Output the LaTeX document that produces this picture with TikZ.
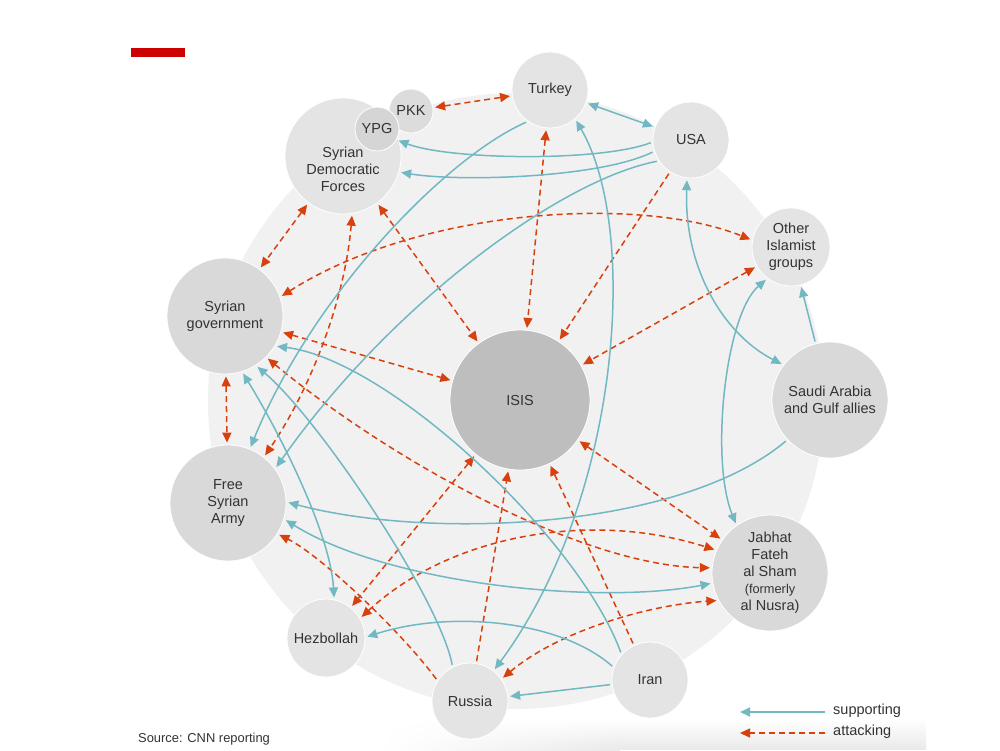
\documentclass[tikz,border=0pt]{standalone}
\usepackage{fontspec}
\setmainfont{Liberation Sans}
\usetikzlibrary{arrows.meta}
\definecolor{teal1}{HTML}{72B8C2}
\definecolor{red1}{HTML}{D8400E}
\definecolor{bgc}{HTML}{F1F1F1}
\definecolor{lightn}{HTML}{E4E4E4}
\definecolor{midn}{HTML}{D9D9D9}
\definecolor{ypgc}{HTML}{D5D5D5}
\definecolor{pkkc}{HTML}{DCDCDC}
\definecolor{isisc}{HTML}{BEBEBE}
\definecolor{txt}{HTML}{333333}
\definecolor{barred}{HTML}{CC0000}
\begin{document}
\begin{tikzpicture}[x=1pt,y=-1pt,
  >={Triangle[length=10pt,width=9pt]},
  ent/.style={circle, inner sep=0pt, draw=white, line width=0.8pt, text=txt, align=center,
    font=\fontsize{14.5}{17}\selectfont},
  small/.style={ent, fill=lightn, minimum size=76pt},
  big/.style={ent, fill=midn, minimum size=116pt},
  lbl/.style={text=txt, align=center, font=\fontsize{14.5}{17}\selectfont, inner sep=0pt},
  sup/.style={teal1, line width=1.5pt, shorten >=2pt, shorten <=2pt},
  att/.style={red1, line width=1.5pt, dash pattern=on 6pt off 4pt, shorten >=2pt, shorten <=2pt}
]
\useasboundingbox (0,0) rectangle (1000,750);
\fill[white] (0,0) rectangle (1000,750);
% faint vignette at the bottom
\foreach \i [evaluate=\i as \c using \i*0.55] in {0,...,15} {
  \shade[left color=white, right color=black!\c] (380,{718+2*\i}) rectangle (620,{720.4+2*\i});
  \fill[black!\c] (619.6,{718+2*\i}) rectangle (926,{720.4+2*\i});
}
\fill[barred] (131,48) rectangle (185,57);
\fill[bgc] (516,401) circle[radius=308pt];

% nodes
\node[small] (turkey) at (550,90) {Turkey};
\node[small] (usa) at (691,140) {USA};
\node[ent, fill=lightn, minimum size=116pt] (sdf) at (343,156) {};
\node[ent, fill=pkkc, minimum size=44pt] (pkk) at (411,111) {PKK};
\node[ent, fill=ypgc, minimum size=44pt] (ypg) at (377,129) {YPG};
\node[lbl] (sdft) at (343,169) {Syrian\\Democratic\\Forces};
\node[small, minimum size=78pt] (other) at (791,247) {Other\\Islamist\\groups};
\node[big] (syrgov) at (225,316) {Syrian\\government};
\node[ent, fill=isisc, minimum size=140pt] (isis) at (520,400) {ISIS};
\node[big] (saudi) at (830,400) {Saudi Arabia\\and Gulf allies};
\node[big] (fsa) at (228,503) {Free\\Syrian\\Army};
\node[big] (jabhat) at (770,573) {Jabhat\\Fateh\\al Sham\\\fontsize{12.8}{17}\selectfont(formerly\\al Nusra)};
\node[small, minimum size=78pt] (hezbollah) at (326,638) {Hezbollah};
\node[small] (russia) at (470,701) {Russia};
\node[small] (iran) at (650,680) {Iran};

% attacking
\draw[att,<->] (pkk) -- (turkey);
\draw[att,<->] (sdf) -- (syrgov);
\draw[att,<->] (sdf.279) .. controls (345,300) and (310,390) .. (fsa.52);
\draw[att,<->] (sdf) -- (isis);
\draw[att,<->] (turkey) -- (isis);
\draw[att,->] (usa) -- (isis);
\draw[att,<->] (syrgov.19) .. controls (420,208) and (640,195) .. (other.170);
\draw[att,<->] (other) -- (isis);
\draw[att,<->] (syrgov) -- (isis);
\draw[att,<->] (syrgov) -- (fsa);
\draw[att,<->] (syrgov.315) .. controls (390,460) and (580,565) .. (jabhat.175);
\draw[att,<->] (hezbollah.30) .. controls (450,535) and (590,510) .. (jabhat.157);
\draw[att,<->] (isis) -- (hezbollah);
\draw[att,<->] (isis) -- (jabhat);
\draw[att,<->] (russia.35) .. controls (560,630) and (650,605) .. (jabhat.208);
\draw[att,->] (russia.148) .. controls (400,630) and (320,555) .. (fsa.328);
\draw[att,->] (russia) -- (isis);
\draw[att,->] (iran) -- (isis);

% supporting
\draw[sup,<->] (turkey) -- (usa);
\draw[sup,->] (usa.183) .. controls (600,162) and (450,160) .. (ypg.331);
\draw[sup,->] (usa.197) .. controls (600,178) and (460,182) .. (sdf.344);
\draw[sup,->] (usa.213) .. controls (560,180) and (390,305) .. (fsa.36);
\draw[sup,->] (turkey.235) .. controls (450,155) and (315,290) .. (fsa.68);
\draw[sup,<->] (turkey.311) .. controls (640,230) and (620,500) .. (russia.52);
\draw[sup,<->] (usa.264) .. controls (684,270) and (725,335) .. (saudi.143);
\draw[sup,->] (saudi) -- (other);
\draw[sup,<->] (other.233) .. controls (725,315) and (710,460) .. (jabhat.125);
\draw[sup,->] (saudi.223) .. controls (680,530) and (430,540) .. (fsa.1);
\draw[sup,<->] (fsa.344) .. controls (390,585) and (600,605) .. (jabhat.190);
\draw[sup,<->] (syrgov.287) .. controls (275,425) and (330,530) .. (hezbollah.78);
\draw[sup,->] (iran.138) .. controls (580,540) and (390,360) .. (syrgov.329);
\draw[sup,->] (russia.117) .. controls (440,600) and (320,420) .. (syrgov.302);
\draw[sup,->] (iran.161) .. controls (560,620) and (450,610) .. (hezbollah.1);
\draw[sup,->] (iran) -- (russia);

% legend
\coordinate (ls1) at (825,712);
\coordinate (le1) at (740,712);
\coordinate (ls2) at (825,733);
\coordinate (le2) at (740,733);
\draw[sup, shorten >=0pt, shorten <=0pt, ->] (ls1) -- (le1);
\draw[att, shorten >=0pt, shorten <=0pt, ->] (ls2) -- (le2);
\node[lbl, anchor=west] (lsup) at (833,711) {supporting};
\node[lbl, anchor=west] (latt) at (833,732) {attacking};
\node[text=txt, anchor=west, inner sep=0pt, font=\fontsize{12.9}{15}\selectfont] (src) at (138,739) {Source: CNN reporting};
\end{tikzpicture}
\end{document}
